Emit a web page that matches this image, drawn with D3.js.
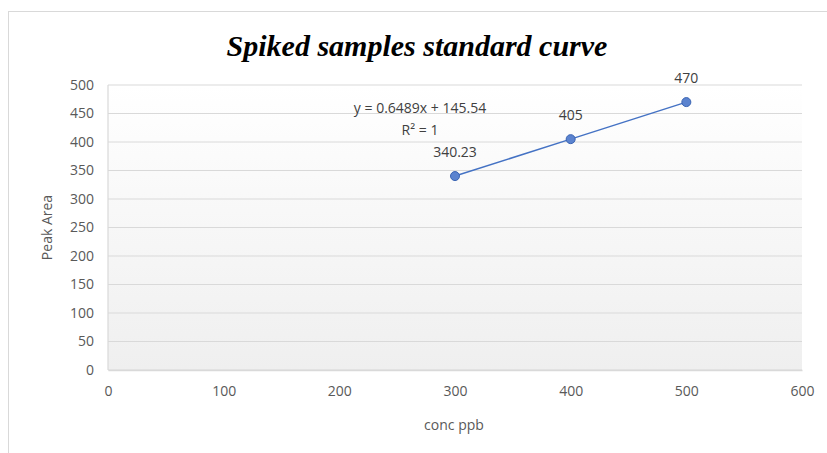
<!DOCTYPE html>
<html>
<head>
<meta charset="utf-8">
<script src="https://cdn.jsdelivr.net/npm/d3@7"></script>
<style>
  body { margin: 0; background: #fff; }
  text { font-family: "Open Sans", "Liberation Sans", sans-serif; }
</style>
</head>
<body>
<svg id="chart"></svg>
<script>
// data
const concValues = [300, 400, 500];
const peakAreas = [340.23, 405, 470];
const pointLabels = ["340.23", "405", "470"];
const xTicks = [0, 100, 200, 300, 400, 500, 600];
const yTicks = [0, 50, 100, 150, 200, 250, 300, 350, 400, 450, 500];
const trendText = ["y = 0.6489x + 145.54", "R\u00b2 = 1"];

const size = { width: 827, height: 453 };
const margin = { left: 108, top: 85, right: 25, bottom: 83 };
const width = size.width - margin.left - margin.right;
const height = size.height - margin.top - margin.bottom;

const svg = d3.select("#chart")
    .attr("width", size.width)
    .attr("height", size.height);

// outer chart border
svg.append("rect")
    .attr("x", 8.5).attr("y", 11.5)
    .attr("width", 830).attr("height", 460)
    .attr("fill", "#fff")
    .attr("stroke", "#d9d9d9");

// gradient for the plot area
const grad = svg.append("defs").append("linearGradient")
    .attr("id", "bg").attr("x1", 0).attr("y1", 0).attr("x2", 0).attr("y2", 1);
grad.append("stop").attr("offset", "0%").attr("stop-color", "#ffffff");
grad.append("stop").attr("offset", "100%").attr("stop-color", "#efefef");

const g = svg.append("g")
    .attr("transform", "translate(" + margin.left + "," + margin.top + ")");

const x = d3.scaleLinear().domain([0, 600]).range([0, width]);
const y = d3.scaleLinear().domain([0, 500]).range([height, 0]);

g.append("rect")
    .attr("width", width).attr("height", height)
    .attr("fill", "url(#bg)");

// gridlines
g.selectAll(".grid")
    .data(yTicks)
    .enter()
    .append("line")
    .attr("x1", 0).attr("x2", width)
    .attr("y1", d => y(d)).attr("y2", d => y(d))
    .attr("stroke", "#d9d9d9")
    .attr("stroke-width", 1.2);

// left plot border
g.append("line")
    .attr("x1", 0).attr("x2", 0).attr("y1", 0).attr("y2", height)
    .attr("stroke", "#d9d9d9").attr("stroke-width", 1.2);

// x axis
const xAxis = g.append("g")
    .attr("transform", "translate(0," + height + ")")
    .call(d3.axisBottom(x).tickValues(xTicks).tickSize(0).tickPadding(16));
xAxis.select(".domain").attr("stroke", "#d9d9d9").attr("stroke-width", 1.5);
xAxis.selectAll("text")
    .attr("fill", "#595959")
    .style("font-size", "14px");

// y axis
const yAxis = g.append("g")
    .call(d3.axisLeft(y).tickValues(yTicks).tickSize(0).tickPadding(14));
yAxis.select(".domain").remove();
yAxis.selectAll("text")
    .attr("fill", "#595959")
    .style("font-size", "14px");

// axis titles
svg.append("text")
    .attr("x", margin.left + x(300) - 1)
    .attr("y", 430)
    .attr("text-anchor", "middle")
    .attr("fill", "#595959")
    .style("font-size", "14px")
    .text("conc ppb");

svg.append("text")
    .attr("transform", "translate(52," + (margin.top + y(250)) + ") rotate(-90)")
    .attr("text-anchor", "middle")
    .attr("fill", "#595959")
    .style("font-size", "14px")
    .text("Peak Area");

// title
svg.append("text")
    .attr("x", 417)
    .attr("y", 56)
    .attr("text-anchor", "middle")
    .attr("fill", "#000")
    .style("font-family", "'Liberation Serif', 'DejaVu Serif', serif")
    .style("font-weight", "bold")
    .style("font-style", "italic")
    .style("font-size", "30px")
    .text("Spiked samples standard curve");

// series line
const pts = concValues.map((c, i) => [c, peakAreas[i]]);
g.append("path")
    .datum(pts)
    .attr("fill", "none")
    .attr("stroke", "#4472c4")
    .attr("stroke-width", 1.5)
    .attr("d", d3.line().x(d => x(d[0])).y(d => y(d[1])));

g.selectAll(".pt")
    .data(pts)
    .enter()
    .append("circle")
    .attr("cx", d => x(d[0]))
    .attr("cy", d => y(d[1]))
    .attr("r", 4.5)
    .attr("fill", "#5b83cf")
    .attr("stroke", "#3a64b3")
    .attr("stroke-width", 1);

// data labels
g.selectAll(".lbl")
    .data(pts)
    .enter()
    .append("text")
    .attr("x", d => x(d[0]))
    .attr("y", d => y(d[1]) - 19)
    .attr("text-anchor", "middle")
    .attr("fill", "#404040")
    .style("font-size", "14px")
    .text((d, i) => pointLabels[i]);

// trendline equation
g.selectAll(".trend")
    .data(trendText)
    .enter()
    .append("text")
    .attr("x", 312)
    .attr("y", (d, i) => 28 + i * 22)
    .attr("text-anchor", "middle")
    .attr("fill", "#404040")
    .style("font-size", "14px")
    .text(d => d);
</script>
</body>
</html>
